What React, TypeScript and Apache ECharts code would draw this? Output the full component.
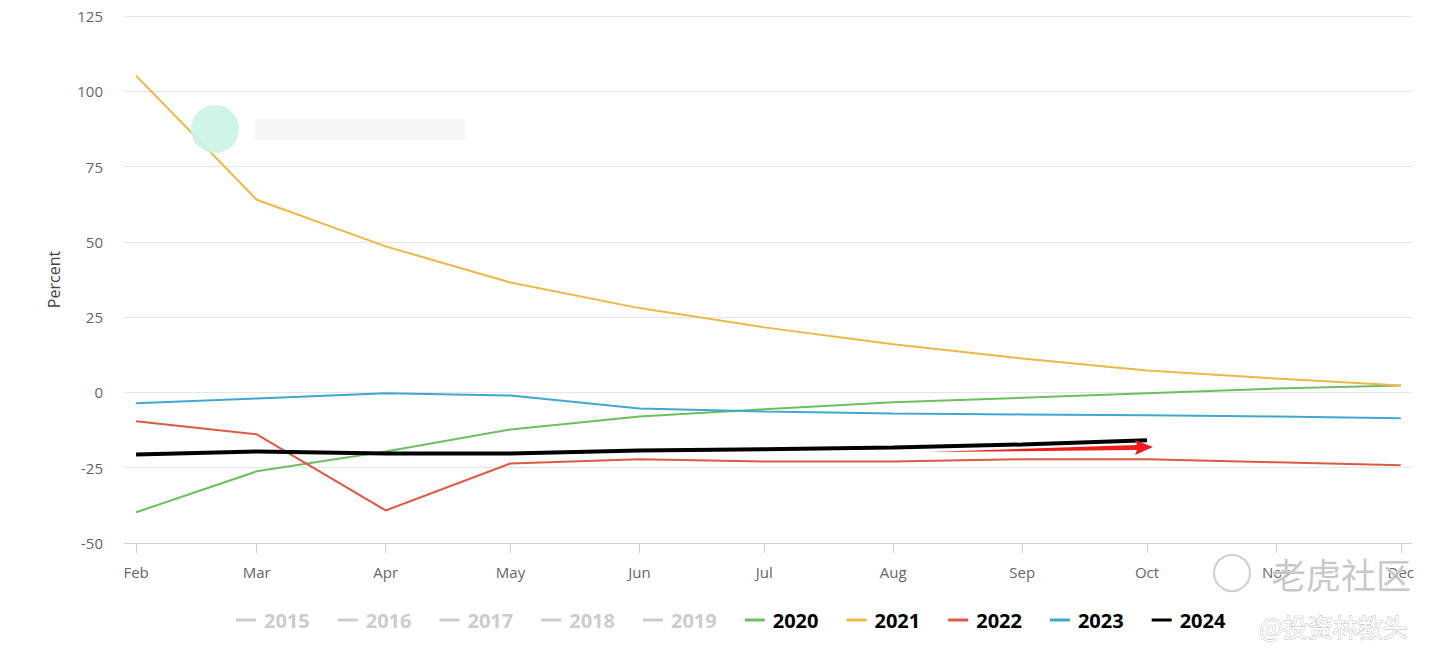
import React, { useEffect, useRef } from "react";
import * as echarts from "echarts";

const months = ["Feb", "Mar", "Apr", "May", "Jun", "Jul", "Aug", "Sep", "Oct", "Nov", "Dec"];

const hiddenYears = ["2015", "2016", "2017", "2018", "2019"];

const y2020 = [-39.8, -26.2, -19.6, -12.3, -8.0, -5.6, -3.3, -1.8, -0.3, 1.3, 2.3];
const y2021 = [105.2, 64.0, 48.5, 36.5, 28.0, 21.6, 16.0, 11.3, 7.3, 4.6, 2.3];
const y2022 = [-9.6, -13.9, -39.2, -23.6, -22.2, -22.9, -22.9, -22.2, -22.2, -23.2, -24.2];
const y2023 = [-3.6, -2.0, -0.3, -1.0, -5.3, -6.3, -7.0, -7.3, -7.6, -8.0, -8.6];
const y2024 = [-20.6, -19.6, -20.3, -20.3, -19.3, -18.9, -18.3, -17.3, -15.9];

const yTicks = { min: -50, max: 125, interval: 25 };

const colors: Record<string, string> = {
  "2020": "#6cbf5e",
  "2021": "#ecb846",
  "2022": "#dc5a44",
  "2023": "#3fa8cf",
  "2024": "#000000",
};

// x positions are day offsets from Feb 1 (leap year), so month spacing follows month lengths
const BASE_YEAR = 2024;
const DAY = 86400000;
const monthDay = (i: number) =>
  Math.round((Date.UTC(BASE_YEAR, i + 1, 1) - Date.UTC(BASE_YEAR, 1, 1)) / DAY);

export default function App() {
  const ref = useRef<HTMLDivElement>(null);

  useEffect(() => {
    document.body.style.margin = "0";
    if (!ref.current) return;
    const chart = echarts.init(ref.current, undefined, { renderer: "svg" });
    const monthDays = months.map((_, i) => monthDay(i));
    const labelOf = (v: number) => {
      const idx = monthDays.indexOf(Math.round(v));
      return idx >= 0 ? months[idx] : "";
    };
    const toSeries = (vals: number[]) => vals.map((v, i) => [monthDays[i], v]);

    const lineSeries = (name: string, vals: number[], width = 2) => ({
      name,
      type: "line",
      data: toSeries(vals),
      showSymbol: false,
      symbol: "none",
      color: colors[name],
      lineStyle: { width, color: colors[name] },
      emphasis: { disabled: true },
      z: name === "2024" ? 5 : 2,
    });

    const hiddenSeries = hiddenYears.map((n) => ({
      name: n,
      type: "line",
      data: [],
      showSymbol: false,
      color: "#999",
    }));

    const selected: Record<string, boolean> = {};
    hiddenYears.forEach((y) => (selected[y] = false));

    chart.setOption({
      animation: false,
      textStyle: { fontFamily: "Open Sans" },
      grid: { left: 124, right: 28, top: 16, bottom: 114, containLabel: false },
      xAxis: {
        type: "value",
        min: monthDays[0] - 2.9,
        max: monthDays[monthDays.length - 1] + 2.7,
        axisLine: { show: true, onZero: false, lineStyle: { color: "#d0d0d0", width: 1 } },
        axisTick: {
          show: true,
          length: 10,
          lineStyle: { color: "#d0d0d0" },
          customValues: monthDays,
        },
        axisLabel: {
          customValues: monthDays,
          color: "#666",
          fontSize: 15,
          margin: 21,
          showMinLabel: true,
          showMaxLabel: true,
          formatter: (val: number) => labelOf(val),
        },
        splitLine: { show: false },
      },
      yAxis: {
        type: "value",
        min: yTicks.min,
        max: yTicks.max,
        interval: yTicks.interval,
        name: "Percent",
        nameLocation: "middle",
        nameGap: 62,
        nameTextStyle: { color: "#444", fontSize: 16 },
        axisLine: { show: false },
        axisTick: { show: false },
        axisLabel: { color: "#666", fontSize: 15, margin: 21 },
        splitLine: { lineStyle: { color: "#e6e6e6", width: 1 } },
      },
      legend: {
        top: 602,
        left: 231,
        icon: "rect",
        itemWidth: 20,
        itemHeight: 3,
        itemGap: 28,
        selected,
        inactiveColor: "#cccccc",
        textStyle: {
          color: "#000",
          fontSize: 20,
          fontWeight: "bold",
          lineHeight: 26,
          padding: [0, 0, 0, 3],
        },
        data: [...hiddenYears, "2020", "2021", "2022", "2023", "2024"],
      },
      series: [
        ...hiddenSeries,
        lineSeries("2020", y2020),
        lineSeries("2021", y2021),
        lineSeries("2022", y2022),
        lineSeries("2023", y2023),
        lineSeries("2024", y2024, 4),
      ],
      graphic: [
        {
          type: "circle",
          shape: { cx: 215, cy: 129, r: 24 },
          style: { fill: "#c9f4e6", opacity: 0.9 },
          z: 10,
        },
        {
          type: "rect",
          shape: { x: 255, y: 119, width: 210, height: 21 },
          style: { fill: "#f3f3f3", opacity: 0.8 },
          z: 10,
        },
        {
          type: "polygon",
          shape: {
            points: [
              [928, 452],
              [1137, 445],
              [1135, 440],
              [1153, 447],
              [1135, 455],
              [1137, 450],
            ],
          },
          style: { fill: "#ee1d1d" },
          z: 10,
        },
        {
          type: "circle",
          shape: { cx: 1232, cy: 573, r: 18 },
          style: { fill: "rgba(255,255,255,0.4)", stroke: "#cfcfcf", lineWidth: 2 },
          z: 10,
        },
        {
          type: "text",
          x: 1271,
          y: 573,
          style: {
            text: "老虎社区",
            font: "35px 'Noto Sans CJK SC'",
            fill: "rgba(190,190,190,0.85)",
            stroke: "#ffffff",
            lineWidth: 1,
            verticalAlign: "middle",
          },
          z: 10,
        },
        {
          type: "text",
          x: 1259,
          y: 626,
          style: {
            text: "@投资林教头",
            font: "25px 'Noto Sans CJK SC'",
            fill: "#ffffff",
            stroke: "#bdbdbd",
            lineWidth: 1,
            verticalAlign: "middle",
          },
          z: 10,
        },
      ],
    });
    return () => chart.dispose();
  }, []);

  return <div ref={ref} style={{ width: 1440, height: 657 }} />;
}
